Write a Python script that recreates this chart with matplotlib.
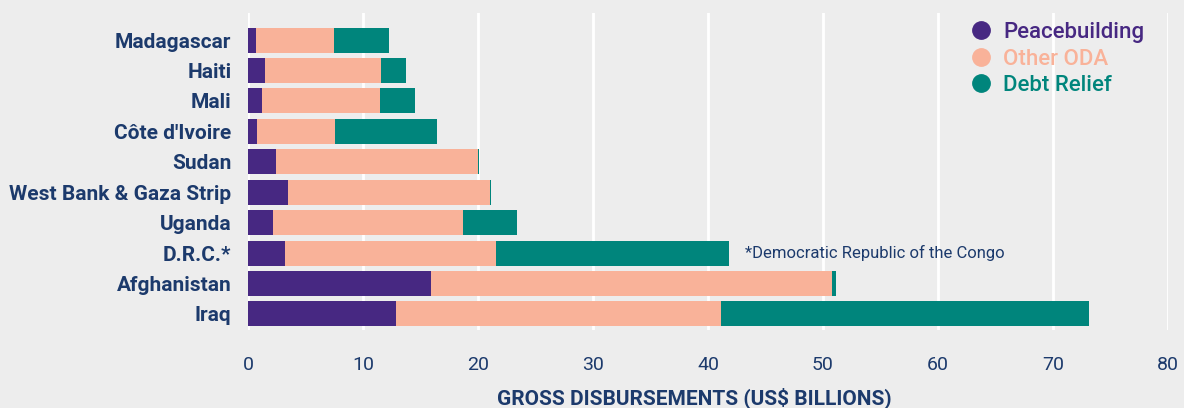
import matplotlib.pyplot as plt
from matplotlib.patches import Rectangle
import numpy as np

countries = ["Madagascar", "Haiti", "Mali", "Côte d'Ivoire", "Sudan",
             "West Bank & Gaza Strip", "Uganda", "D.R.C.*", "Afghanistan", "Iraq"]
peacebuilding = [0.7, 1.5, 1.2, 0.8, 2.4, 3.5, 2.2, 3.2, 15.9, 12.9]
other_oda = [6.8, 10.1, 10.3, 6.8, 17.6, 17.5, 16.5, 18.4, 34.9, 28.2]
debt_relief = [4.8, 2.1, 3.0, 8.8, 0.1, 0.1, 4.7, 20.2, 0.3, 32.0]

bg = "#ededed"
navy = "#1c3a6c"
c_peace = "#472882"
c_other = "#f9b299"
c_debt = "#00857c"

plt.rcParams['font.family'] = ['Roboto', 'DejaVu Sans']

fig = plt.figure(figsize=(11.84, 4.08), dpi=100, facecolor=bg)
ax = fig.add_axes([248 / 1184, 1 - 330 / 408, 920 / 1184, 317 / 408])
ax.set_facecolor(bg)

y = np.arange(len(countries))
peace = np.array(peacebuilding)
other = np.array(other_oda)
debt = np.array(debt_relief)
h = 0.82
ax.barh(y, peace, height=h, color=c_peace, label="Peacebuilding", zorder=3)
ax.barh(y, other, left=peace, height=h, color=c_other, label="Other ODA", zorder=3)
ax.barh(y, debt, left=peace + other, height=h, color=c_debt, label="Debt Relief", zorder=3)

ax.set_xlim(0, 80)
ax.set_ylim(9.53, -0.89)
ax.set_xticks(range(0, 81, 10))
ax.set_yticks(y)
ax.set_yticklabels(countries, fontsize=15, fontweight='bold', color=navy)
ax.tick_params(axis='x', length=0, labelsize=14, labelcolor=navy, pad=19)
ax.tick_params(axis='y', length=0, pad=12)
ax.grid(axis='x', color='white', linewidth=2, zorder=0)
for s in ax.spines.values():
    s.set_visible(False)

# legend area hides the grid line behind it
ax.add_patch(Rectangle((0.78, 0.596), 0.2, 0.45, transform=ax.transAxes,
                       facecolor=bg, edgecolor='none', zorder=1))

ax.text(43.2, 7, "*Democratic Republic of the Congo", fontsize=12, color=navy,
        va='center', ha='left')

fig.text(694 / 1184, 1 - 398 / 408, "GROSS DISBURSEMENTS (US$ BILLIONS)",
         fontsize=15, fontweight='bold', color=navy, ha='center', va='center')

handles = [plt.Line2D([], [], marker='o', linestyle='', markersize=12.5, color=c)
           for c in (c_peace, c_other, c_debt)]
leg = ax.legend(handles, ["Peacebuilding", "Other ODA", "Debt Relief"],
                loc='upper left', bbox_to_anchor=(0.765, 1.027), frameon=False,
                fontsize=16, handletextpad=0.5, labelspacing=0.24,
                borderpad=0.3, handlelength=1.0)
for t, c in zip(leg.get_texts(), (c_peace, c_other, c_debt)):
    t.set_color(c)
    t.set_fontweight('medium')

fig.savefig("out.png", dpi=100, facecolor=bg)
